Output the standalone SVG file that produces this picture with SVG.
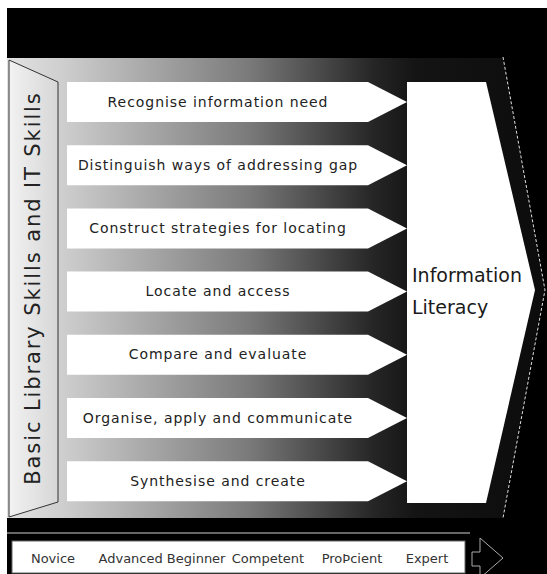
<svg xmlns="http://www.w3.org/2000/svg" width="547" height="574" viewBox="0 0 547 574">
<style>
.row{fill:#ffffff;}
.rt{font-family:"DejaVu Sans",Verdana,sans-serif;font-size:14px;fill:#222;text-anchor:middle;letter-spacing:0.95px;}
.bt{font-family:"DejaVu Sans",Verdana,sans-serif;font-size:13px;fill:#333;text-anchor:middle;}
.it{font-family:"DejaVu Sans",Verdana,sans-serif;font-size:19px;fill:#1a1a1a;}
</style>
<defs>
<linearGradient id="grad" x1="7" y1="0" x2="545" y2="0" gradientUnits="userSpaceOnUse">
<stop offset="0" stop-color="#e2e2e2"/>
<stop offset="0.1" stop-color="#cfcfcf"/>
<stop offset="0.45" stop-color="#7a7a7a"/>
<stop offset="0.68" stop-color="#262626"/>
<stop offset="0.76" stop-color="#141414"/>
<stop offset="1" stop-color="#0c0c0c"/>
</linearGradient>
<linearGradient id="side" x1="0" y1="0" x2="1" y2="0">
<stop offset="0" stop-color="#f2f2f2"/>
<stop offset="1" stop-color="#d6d6d6"/>
</linearGradient>
</defs>
<rect x="0" y="0" width="547" height="574" fill="#ffffff"/>
<rect x="7" y="8" width="540" height="566" fill="#000000"/>
<polygon points="7,58 503,58 545,290 503,518 7,518" fill="url(#grad)"/>
<g id="connectors">
<polyline points="503,57 545,290 503,518" fill="none" stroke="#e0e0e0" stroke-width="1" stroke-dasharray="3,2"/>
</g>
<g id="side-panel">
<polygon points="9,60 58,82 58,502 9,517" fill="url(#side)" stroke="#333" stroke-width="1"/>
<text transform="translate(40,288) rotate(-90)" font-family="DejaVu Sans, Verdana, sans-serif" font-size="21" fill="#222" text-anchor="middle" letter-spacing="1.9">Basic Library Skills and IT Skills</text>
</g>
<g id="row1"><path class="row" d="M67,82 H368 L407,102 L368,122 H67 Z"/><text class="rt" x="218" y="107">Recognise information need</text></g>
<g id="row2"><path class="row" d="M67,145.2 H368 L407,165.2 L368,185.2 H67 Z"/><text class="rt" x="218" y="170">Distinguish ways of addressing gap</text></g>
<g id="row3"><path class="row" d="M67,208.4 H368 L407,228.4 L368,248.4 H67 Z"/><text class="rt" x="218" y="233">Construct strategies for locating</text></g>
<g id="row4"><path class="row" d="M67,271.6 H368 L407,291.6 L368,311.6 H67 Z"/><text class="rt" x="218" y="296">Locate and access</text></g>
<g id="row5"><path class="row" d="M67,334.8 H368 L407,354.8 L368,374.8 H67 Z"/><text class="rt" x="218" y="359">Compare and evaluate</text></g>
<g id="row6"><path class="row" d="M67,398 H368 L407,418 L368,438 H67 Z"/><text class="rt" x="218" y="423">Organise, apply and communicate</text></g>
<g id="row7"><path class="row" d="M67,461.2 H368 L407,481.2 L368,501.2 H67 Z"/><text class="rt" x="218" y="486">Synthesise and create</text></g>
<g id="info-literacy">
<polygon points="407,82 486,82 535,290 486,503 407,503" fill="#ffffff"/>
<text class="it" x="412" y="282">Information</text>
<text class="it" x="412" y="314">Literacy</text>
</g>
<g id="scale">
<line x1="7" y1="533" x2="470" y2="533" stroke="#8a8a8a" stroke-width="1.5"/>
<rect x="12" y="541" width="453" height="32" fill="#ffffff" stroke="#666" stroke-width="1"/>
<text class="bt" x="53" y="563">Novice</text>
<text class="bt" x="162" y="563">Advanced Beginner</text>
<text class="bt" x="268" y="563">Competent</text>
<text class="bt" x="352" y="563">ProÞcient</text>
<text class="bt" x="427" y="563">Expert</text>
<polygon points="472,552 480,552 480,538 503,558 480,578 480,566 472,566" fill="none" stroke="#aaa" stroke-width="1"/>
</g>
</svg>
